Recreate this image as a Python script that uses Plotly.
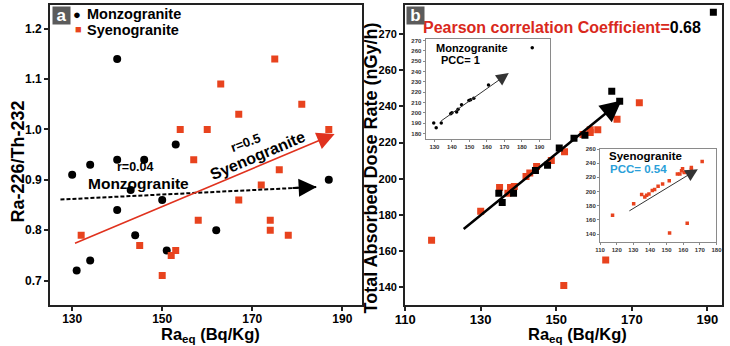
import plotly.graph_objects as go

# ---------------- data ----------------
# Panel a : Ra-226/Th-232 vs Ra_eq
monzo_a_x = [140, 153, 140, 146, 134, 130, 143, 140, 150, 144, 162, 151, 134, 131, 187]
monzo_a_y = [1.14, 0.97, 0.94, 0.94, 0.93, 0.91, 0.88, 0.84, 0.86, 0.79, 0.80, 0.76, 0.74, 0.72, 0.90]
syeno_a_x = [175, 163, 181, 167, 154, 160, 187, 157, 176, 172, 167, 158, 174, 174, 178, 132, 145, 152, 153, 150]
syeno_a_y = [1.14, 1.09, 1.05, 1.03, 1.00, 1.00, 1.00, 0.94, 0.92, 0.89, 0.86, 0.82, 0.82, 0.80, 0.79, 0.79, 0.77, 0.75, 0.76, 0.71]
monzo_fit_a_x = [127.4, 184.3]
monzo_fit_a_y = [0.861, 0.886]
syeno_fit_a_x = [130.3, 188.3]
syeno_fit_a_y = [0.773, 0.991]

# Panel b : Total absorbed dose rate vs Ra_eq
monzo_b_x = [134.8, 135.7, 138.7, 144.5, 147.7, 150.8, 154.7, 157.6, 164.7, 166.8, 191.6]
monzo_b_y = [192, 186.8, 192, 204.5, 207.4, 217, 222.4, 224, 248.3, 242.8, 292]
syeno_b_x = [117, 130, 135, 137.2, 137.9, 138.9, 142, 143, 144.8, 148.7, 152.2, 152, 157.1, 159, 159, 161, 163.1, 166.1, 172]
syeno_b_y = [166, 182, 195.2, 192, 195.2, 195.7, 201.2, 203.2, 206.7, 210, 214.9, 141, 224.4, 225.5, 227.1, 227.1, 155, 232.8, 241.9]
all_fit_b_x = [125.1, 167.3]
all_fit_b_y = [171.5, 243.2]

# Inset: Monzogranite
monzo_in_x = [129.6, 131, 133.9, 139.3, 140, 142.7, 143.5, 145.5, 149.7, 150.7, 152.5, 160.9, 185.9]
monzo_in_y = [190.2, 185.5, 190.2, 199.2, 200, 200.8, 203.5, 207.8, 212, 212.6, 214.2, 227, 263]
monzo_fit_in_x = [133, 172.5]
monzo_fit_in_y = [191.2, 238.4]

# Inset: Syenogranite
syeno_in_x = [117.5, 130.2, 135, 136.9, 138, 139.4, 141.4, 142.8, 144.9, 147.6, 151.6, 151.8, 156.5, 158, 159, 159.6, 160.6, 162.4, 164.9, 164.9, 171.4]
syeno_in_y = [166.5, 182.7, 195.8, 192.5, 194.8, 196.7, 201.4, 202.8, 207.4, 210.6, 215.4, 141.4, 224.6, 224.6, 229.3, 232, 226.9, 155.3, 234, 231, 242.3]
syeno_fit_in_x = [126.7, 168.8]
syeno_fit_in_y = [171.5, 231.6]

# ticks
a_xticks = [130, 150, 170, 190]
a_yticks = [0.7, 0.8, 0.9, 1.0, 1.1, 1.2]
b_xticks = [110, 130, 150, 170, 190]
b_yticks = [140, 160, 180, 200, 220, 240, 260, 280]
b_yticktext = ["140", "160", "180", "200", "220", "240", "260", "270"]
in1_xticks = [130, 140, 150, 160, 170, 180, 190]
in1_yticks = [180, 190, 200, 210, 220, 230, 240, 250, 260, 270]
in2_xticks = [110, 120, 130, 140, 150, 160, 170, 180]
in2_yticks = [140, 160, 180, 200, 220, 240, 260]

pearson_r = "0.68"
pcc_monzo = "1"
pcc_syeno = "0.54"

# ---------------- styling ----------------
FONT = "Liberation Sans, Arial, sans-serif"
RED = "#E8431E"
TXTRED = "#D9291C"
BLUE = "#2B9FD9"
W, H = 730, 346

def px(xp):
    return xp / W

def py(yp):
    return (H - yp) / H

fig = go.Figure()

# panel a
fig.add_trace(go.Scatter(x=monzo_a_x, y=monzo_a_y, mode="markers", xaxis="x", yaxis="y",
                         marker=dict(symbol="circle", size=8, color="black"), showlegend=False))
fig.add_trace(go.Scatter(x=syeno_a_x, y=syeno_a_y, mode="markers", xaxis="x", yaxis="y",
                         marker=dict(symbol="square", size=7, color=RED), showlegend=False))
fig.add_trace(go.Scatter(x=monzo_fit_a_x, y=monzo_fit_a_y, mode="lines", xaxis="x", yaxis="y",
                         line=dict(color="black", width=2, dash="4px,2px"), showlegend=False))

# panel b
fig.add_trace(go.Scatter(x=syeno_b_x, y=syeno_b_y, mode="markers", xaxis="x2", yaxis="y2",
                         marker=dict(symbol="square", size=7, color=RED), showlegend=False))
fig.add_trace(go.Scatter(x=monzo_b_x, y=monzo_b_y, mode="markers", xaxis="x2", yaxis="y2",
                         marker=dict(symbol="square", size=7, color="black"), showlegend=False))

# insets
fig.add_trace(go.Scatter(x=monzo_in_x, y=monzo_in_y, mode="markers", xaxis="x3", yaxis="y3",
                         marker=dict(symbol="circle", size=3.5, color="black"), showlegend=False))
fig.add_trace(go.Scatter(x=syeno_in_x, y=syeno_in_y, mode="markers", xaxis="x4", yaxis="y4",
                         marker=dict(symbol="square", size=3.5, color=RED), showlegend=False))

ann = []

def arrow(xs, ys, xr, yr, color, width, size, frac=0.0):
    x0 = xs[0] + (xs[1] - xs[0]) * frac
    y0 = ys[0] + (ys[1] - ys[0]) * frac
    ann.append(dict(x=xs[1], y=ys[1], ax=x0, ay=y0, xref=xr, yref=yr, axref=xr, ayref=yr,
                    text="", showarrow=True, arrowhead=2, arrowsize=size, arrowwidth=width,
                    arrowcolor=color))

arrow(monzo_fit_a_x, monzo_fit_a_y, "x", "y", "black", 2, 1.8, frac=0.9)
arrow(syeno_fit_a_x, syeno_fit_a_y, "x", "y", "#E0321E", 1.6, 2.2)
arrow(all_fit_b_x, all_fit_b_y, "x2", "y2", "black", 2.5, 1.7)
arrow(monzo_fit_in_x, monzo_fit_in_y, "x3", "y3", "#333333", 1, 2.5)
arrow(syeno_fit_in_x, syeno_fit_in_y, "x4", "y4", "#333333", 1, 2.5)

def text(t, x, y, size, color="black", xref="paper", yref="paper", angle=0, xanchor="center", yanchor="middle"):
    ann.append(dict(text=t, x=x, y=y, xref=xref, yref=yref, showarrow=False, textangle=angle,
                    xanchor=xanchor, yanchor=yanchor,
                    font=dict(family=FONT, size=size, color=color, weight="bold")))

# legend (panel a)
text("●", px(68), py(12), 13, "black")
text("■", px(70), py(26.5), 11, RED)
text("Monzogranite", px(77), py(11), 14.5, "black", xanchor="left")
text("Syenogranite", px(77), py(27.5), 14.5, "black", xanchor="left")

# panel a labels
text("r=0.04", 144.1, 0.925, 12.5, xref="x", yref="y")
text("Monzogranite", 144.7, 0.892, 15.5, xref="x", yref="y")
text("r=0.5", 168.6, 0.975, 13, xref="x", yref="y", angle=-20)
text("Syenogranite", 171.2, 0.948, 16, xref="x", yref="y", angle=-23)

# axis titles
text("Ra-226/Th-232", px(8), py(160), 18, angle=-90)
text("Ra<sub>eq</sub> (Bq/Kg)", px(205), py(335), 16.5)
text("Total Absorbed Dose Rate (nGy/h)", px(369), py(166), 18, angle=-90)
text("Ra<sub>eq</sub> (Bq/Kg)", px(580), py(335), 16.5)

# panel b title
text("<span style='color:%s'>Pearson correlation Coefficient=</span>%s" % (TXTRED, pearson_r),
     px(564), py(25), 16)

# inset texts
text("Monzogranite", px(472), py(45), 11)
text("PCC= " + pcc_monzo, px(461), py(58), 11)
text("Syenogranite", px(650), py(154), 11.5)
text("PCC= " + pcc_syeno, px(643), py(167), 11.5, BLUE)

# panel letters
for letter, xl in (("a", 43), ("b", 405)):
    ann.append(dict(text=letter, x=px(xl), y=py(3), xref="paper", yref="paper", showarrow=False,
                    xanchor="left", yanchor="top", width=17, height=17, bgcolor="#5b5b5b",
                    borderpad=0, font=dict(family=FONT, size=17, color="white", weight="bold")))

main_line = dict(showline=True, linewidth=2, linecolor="#222222", mirror=True, showgrid=False,
                 zeroline=False, ticks="outside", ticklen=4, tickwidth=1.5, tickcolor="#222222")
inset_line = dict(showline=True, linewidth=1.2, linecolor="#8a8a8a", mirror=True, showgrid=False,
                  zeroline=False, ticks="outside", ticklen=2, tickwidth=1, tickcolor="#8a8a8a",
                  tickfont=dict(family=FONT, size=6, color="#333333", weight="bold"))

ydom = [py(305), py(2)]
fig.update_layout(
    width=W, height=H, margin=dict(l=0, r=0, t=0, b=0),
    paper_bgcolor="white", plot_bgcolor="white", showlegend=False,
    font=dict(family=FONT, color="black"),
    xaxis=dict(domain=[px(41), px(360)], range=[125.1, 194.4], tickvals=a_xticks, anchor="y",
               ticklabelstandoff=-3,
               tickfont=dict(family=FONT, size=12, weight="bold"), **main_line),
    yaxis=dict(domain=ydom, range=[0.651, 1.247], tickvals=a_yticks, tickformat=".1f", anchor="x",
               tickfont=dict(family=FONT, size=12, weight="bold"), **main_line),
    xaxis2=dict(domain=[px(404), px(728)], range=[110, 193.9], tickvals=b_xticks, anchor="y2",
                ticklabelstandoff=-3,
                tickfont=dict(family=FONT, size=13, weight="bold"), **main_line),
    yaxis2=dict(domain=ydom, range=[130, 296], tickvals=b_yticks, ticktext=b_yticktext, anchor="x2",
                tickfont=dict(family=FONT, size=11, weight="bold"), **main_line),
    xaxis3=dict(domain=[px(425), px(552)], range=[125, 196], tickvals=in1_xticks, anchor="y3", **inset_line),
    yaxis3=dict(domain=[py(136.7), py(36.7)], range=[175.2, 271], tickvals=in1_yticks, anchor="x3", **inset_line),
    xaxis4=dict(domain=[px(603.3), px(722.3)], range=[110, 180], tickvals=in2_xticks, anchor="y4", **inset_line),
    yaxis4=dict(domain=[py(241), py(147.3)], range=[129, 260], tickvals=in2_yticks, anchor="x4", **inset_line),
    annotations=ann,
)

fig.write_html("out.html")
